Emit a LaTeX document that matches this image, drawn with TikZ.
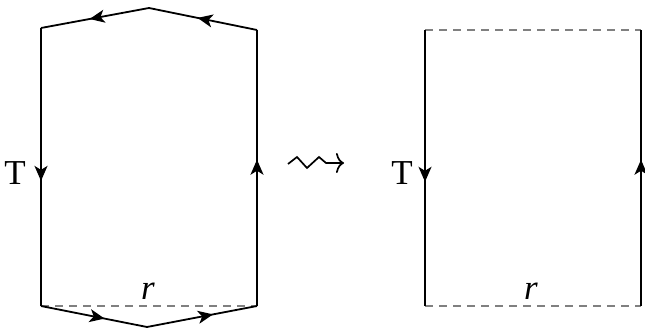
\documentclass[tikz,border=0pt]{standalone}
\usepackage{fontspec}
\setmainfont{Liberation Serif}
\usetikzlibrary{decorations.markings,arrows.meta}
\begin{document}
\begin{tikzpicture}[x=1pt,y=-1pt,
  edge/.style={line width=1.8pt,black},
  gap/.style={line width=1.3pt,gray,dash pattern=on 8pt off 6pt},
  midarr/.style={postaction={decorate},decoration={markings,mark=at position #1 with {\arrow{Stealth[length=15pt,width=13pt,inset=4pt]}}}},
  lbl/.style={font=\fontsize{35}{37}\selectfont,inner sep=0pt}]
\useasboundingbox (0,0) rectangle (645,328);
% left figure
\coordinate (A) at (41,306);
\coordinate (B) at (41,28);
\coordinate (C) at (149,8);
\coordinate (D) at (257,30);
\coordinate (E) at (257,306);
\coordinate (F) at (147,327);
\draw[gap] (A) -- (E);
\draw[edge,midarr=0.55] (B) -- (A);
\draw[edge,midarr=0.53] (E) -- (D);
\draw[edge,midarr=0.55] (D) -- (C);
\draw[edge,midarr=0.55] (C) -- (B);
\draw[edge,midarr=0.6] (A) -- (F);
\draw[edge,midarr=0.6] (F) -- (E);
\node[lbl] (T1) at (15,173) {T};
\node[lbl,font=\fontsize{35}{37}\selectfont\itshape] (r1) at (148,291) {r};
% squiggly arrow
\coordinate (s0) at (288,164);
\coordinate (s1) at (297,157);
\coordinate (s2) at (307,168);
\coordinate (s3) at (319,157);
\coordinate (s4) at (326,163);
\coordinate (s5) at (344,163);
\draw[line width=1.7pt,line join=miter,-{To[length=8pt,width=20pt]}] (s0) -- (s1) -- (s2) -- (s3) -- (s4) -- (s5);
% right figure
\coordinate (P) at (425,306);
\coordinate (Q) at (425,30);
\coordinate (R) at (641,30);
\coordinate (S) at (641,306);
\draw[gap] (Q) -- (R);
\draw[gap] (P) -- (S);
\draw[edge,midarr=0.55] (Q) -- (P);
\draw[edge,midarr=0.53] (S) -- (R);
\node[lbl] (T2) at (402,173) {T};
\node[lbl,font=\fontsize{35}{37}\selectfont\itshape] (r2) at (531,291) {r};
\end{tikzpicture}
\end{document}
